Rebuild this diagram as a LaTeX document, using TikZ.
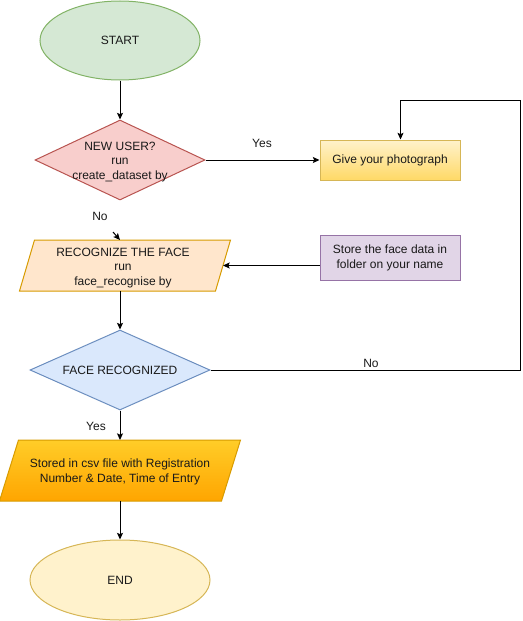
\documentclass[tikz,border=0pt]{standalone}
\usepackage{fontspec}
\setmainfont{Liberation Sans}
\usetikzlibrary{shapes.geometric,arrows.meta,backgrounds}

\definecolor{startfill}{HTML}{D5E8D4}
\definecolor{startline}{HTML}{82B366}
\definecolor{redfill}{HTML}{F8CECC}
\definecolor{redline}{HTML}{B85450}
\definecolor{yelfill}{HTML}{FFF2CC}
\definecolor{yeldark}{HTML}{FFD966}
\definecolor{yelline}{HTML}{D6B656}
\definecolor{orgfill}{HTML}{FFE6CC}
\definecolor{orgline}{HTML}{D79B00}
\definecolor{purfill}{HTML}{E1D5E7}
\definecolor{purline}{HTML}{9673A6}
\definecolor{bluefill}{HTML}{DAE8FC}
\definecolor{blueline}{HTML}{6C8EBF}
\definecolor{goldtop}{HTML}{FFCD28}
\definecolor{goldbot}{HTML}{FFA500}

\newdimen\pxu
\pxu=0.75pt

\tikzset{
  every node/.style={font=\fontsize{9}{10.8}\selectfont, text=black!90},
  shapebox/.style={inner sep=0pt, line width=0.75pt},
  termbox/.style={shapebox, ellipse},
  decbox/.style={shapebox, diamond},
  iobox/.style={shapebox, rectangle, align=center},
  ioshape/.style={line width=0.75pt},
  procbox/.style={shapebox, rectangle},
  arr/.style={line width=0.75pt, draw=black, -{Stealth[length=5pt,width=4.5pt,inset=1pt]}},
  lbl/.style={inner sep=0pt},
}

\begin{document}
\begin{tikzpicture}[x=0.75pt, y=-0.75pt]
  \useasboundingbox (0,0) rectangle (522,621);

  % terminals
  \node[termbox, fill=startfill, draw=startline, minimum width=160\pxu, minimum height=79\pxu]
    (start) at (120,40.5) {START};
  \node[termbox, fill=yelfill, draw=yelline, minimum width=180\pxu, minimum height=80\pxu]
    (end) at (120,580) {END};

  % decisions (outline drawn by the shape, text set on top)
  \node[decbox, fill=redfill, draw=redline, minimum width=170\pxu, minimum height=80\pxu]
    (newuser) at (120,160) {};
  \node[align=center] (newusertxt) at (120,162) {NEW USER?\\run\\create\_dataset by};
  \node[decbox, fill=bluefill, draw=blueline, minimum width=180\pxu, minimum height=80\pxu]
    (face) at (120,370) {};
  \node (facetxt) at (120,370) {FACE RECOGNIZED};

  % input / output steps: text boxes, parallelograms drawn behind them
  \node[iobox, minimum width=210\pxu, minimum height=50\pxu]
    (recog) at (125,265.5) {};
  \node[align=center, font=\fontsize{9}{11}\selectfont] (recogtxt) at (123,268)
    {RECOGNIZE THE FACE\\run\\face\_recognise by};
  \node[iobox, minimum width=240\pxu, minimum height=60\pxu]
    (stored) at (120,470.5) {};
  \node[align=center, font=\fontsize{9}{11.5}\selectfont] (storedtxt) at (120,472)
    {Stored in csv file with Registration\\Number \& Date, Time of Entry};
  \begin{scope}[on background layer]
    \draw[ioshape, fill=orgfill, draw=orgline]
      (recog.south west) -- ([xshift=-15\pxu]recog.south east)
      -- (recog.north east) -- ([xshift=15\pxu]recog.north west) -- cycle;
    \shade[ioshape, top color=goldtop, bottom color=goldbot, draw=orgline]
      (stored.south west) -- ([xshift=-19\pxu]stored.south east)
      -- (stored.north east) -- ([xshift=19\pxu]stored.north west) -- cycle;
  \end{scope}

  % processes
  \node[procbox, top color=yelfill, bottom color=yeldark, draw=yelline,
        minimum width=140\pxu, minimum height=40\pxu]
    (photo) at (390,160) {Give your photograph};
  \node[procbox, fill=purfill, draw=purline, minimum width=140\pxu, minimum height=45\pxu,
        align=center]
    (store) at (390,258) {Store the face data in\\folder on your name};

  % connectors
  \draw[arr] (start.south) -- (newuser.north);
  \draw[arr] (newuser.east) -- (photo.west);
  \coordinate (nostub) at (113,232);
  \draw[arr] (nostub) -- (recog.north -| start.south);
  \draw[arr] (store.west |- recog.east) -- ([xshift=-7.5\pxu]recog.east);
  \draw[arr] (recog.south -| face.north) -- (face.north);
  \coordinate (loopturn) at (400.5,100);
  \draw[arr] (face.east) -- (520.5,370) |- (loopturn) -- (loopturn |- photo.north);
  \draw[arr] (face.south) -- (stored.north -| face.south);
  \draw[arr] (stored.south -| end.north) -- (end.north);

  % connector labels
  \node[lbl] (yes1) at (262,143) {Yes};
  \node[lbl] (no1) at (100,216) {No};
  \node[lbl] (no2) at (371,363) {No};
  \node[lbl] (yes2) at (96,426) {Yes};
\end{tikzpicture}
\end{document}
